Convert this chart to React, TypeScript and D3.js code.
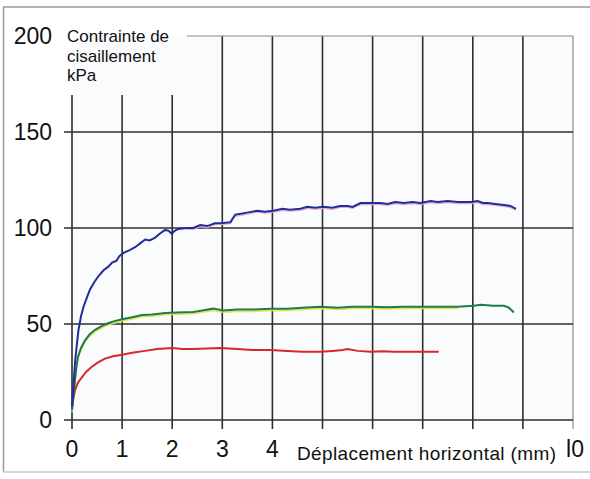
import React from 'react'
import * as d3 from 'd3'

// shear stress (kPa) vs horizontal displacement (mm)
const blueSeries: [number, number][] = [
  [0, 7], [0.03, 18], [0.06, 30], [0.1, 40], [0.13, 47], [0.18, 54], [0.23, 59], [0.3, 64],
  [0.36, 68], [0.45, 72], [0.53, 75], [0.63, 78], [0.73, 80], [0.8, 82], [0.89, 83], [0.95, 85.5],
  [1.03, 87], [1.15, 88.5], [1.26, 90], [1.36, 92], [1.46, 94], [1.55, 93.5], [1.66, 95], [1.75, 97],
  [1.86, 99], [1.93, 98.5], [1.99, 97], [2.05, 98.5], [2.12, 99.5], [2.3, 100], [2.42, 100],
  [2.56, 101.5], [2.7, 101], [2.85, 102.5], [3.02, 102.6], [3.16, 103], [3.22, 105.5], [3.26, 107],
  [3.4, 107.5], [3.49, 108], [3.7, 109], [3.85, 108.5], [4.02, 109], [4.2, 110], [4.35, 109.5],
  [4.56, 110], [4.7, 111], [4.85, 110.5], [5.02, 111], [5.2, 110.5], [5.35, 111.5], [5.5, 111.5],
  [5.6, 111], [5.76, 113], [5.96, 113], [6.16, 113], [6.3, 112.5], [6.45, 113.5], [6.62, 113],
  [6.8, 113.5], [6.95, 113], [7.16, 114], [7.3, 113.5], [7.5, 114], [7.7, 113.5], [7.96, 113.5],
  [8.1, 114], [8.2, 113], [8.3, 113], [8.45, 112.5], [8.62, 112], [8.75, 111.5], [8.86, 110],
]

const greenSeries: [number, number][] = [
  [0, 5], [0.03, 13], [0.06, 21], [0.09, 28], [0.12, 33], [0.18, 37.5], [0.26, 41.5], [0.35, 44.5],
  [0.46, 47], [0.6, 49], [0.73, 50.5], [0.85, 51.5], [1.0, 52.5], [1.2, 53.5], [1.4, 54.7], [1.6, 55],
  [1.86, 55.7], [2.1, 56], [2.42, 56.3], [2.6, 57], [2.82, 58], [3.02, 57], [3.3, 57.5], [3.6, 57.5],
  [3.96, 58], [4.3, 58], [4.6, 58.5], [4.96, 59], [5.3, 58.5], [5.6, 59], [5.96, 59], [6.3, 58.7],
  [6.6, 59], [6.96, 59], [7.3, 59], [7.7, 59], [8.02, 59.5], [8.16, 60], [8.4, 59.5], [8.62, 59.5],
  [8.72, 58.5], [8.78, 57], [8.82, 56],
]

const redSeries: [number, number][] = [
  [0, 7], [0.03, 11.5], [0.06, 15.6], [0.12, 19.5], [0.19, 22], [0.28, 25], [0.39, 27.6], [0.52, 30],
  [0.66, 32], [0.82, 33.2], [1.0, 34], [1.2, 35], [1.46, 36], [1.7, 37], [2.0, 37.5], [2.2, 37],
  [2.42, 37], [2.7, 37.3], [2.96, 37.5], [3.3, 37], [3.6, 36.5], [3.96, 36.5], [4.3, 36], [4.6, 35.5],
  [4.96, 35.5], [5.2, 36], [5.4, 36.5], [5.5, 37], [5.7, 36], [5.96, 35.5], [6.2, 35.8], [6.42, 35.5],
  [6.7, 35.5], [7.1, 35.5], [7.32, 35.5],
]

const xTicks = [0, 1, 2, 3, 4, 5, 6, 7, 8, 9, 10]
const xTickLabels = ['0', '1', '2', '3', '4', '', '', '', '', '', 'l0']
const yTicks = [0, 50, 100, 150, 200]
const yTitle = ['Contrainte de', 'cisaillement', 'kPa']
const xTitle = 'Déplacement horizontal (mm)'

export default function App() {
  const x = d3.scaleLinear().domain([0, 10]).range([72, 573])
  const y = d3.scaleLinear().domain([0, 200]).range([420, 36])

  const line = d3
    .line<[number, number]>()
    .x((d) => x(d[0]))
    .y((d) => y(d[1]))

  const font = 'Arial, "Liberation Sans", sans-serif'

  return (
    <svg
      width={590}
      height={479}
      style={{ position: 'absolute', left: 0, top: 0, background: '#fff' }}
      fontFamily={font}
    >
      {/* scanned page frame */}
      <line x1={3} x2={590} y1={7} y2={7} stroke="#9a9a9a" strokeWidth={1.5} />
      <line x1={3.5} x2={3.5} y1={7} y2={472} stroke="#9a9a9a" strokeWidth={1.5} />
      <line x1={3} x2={590} y1={472} y2={472} stroke="#c8c8c8" strokeWidth={1.5} />

      <rect x={x(0)} y={y(200)} width={x(10) - x(0)} height={y(0) - y(200)} fill="#fafbfc" />

      {/* vertical grid */}
      {xTicks.map((t) => (
        <line
          key={'vx' + t}
          x1={x(t)}
          x2={x(t)}
          y1={t < 3 ? 95 : y(200)}
          y2={y(0) + 9}
          stroke={t === 10 ? '#8a8a8a' : '#2e2e2e'}
          strokeWidth={t === 10 ? 1.2 : 1.6}
        />
      ))}
      {/* horizontal grid */}
      {yTicks.map((t) => (
        <line
          key={'hy' + t}
          x1={t === 200 ? 187 : x(0) - 8}
          x2={x(10)}
          y1={y(t)}
          y2={y(t)}
          stroke={t === 200 ? '#8a8a8a' : '#2e2e2e'}
          strokeWidth={t === 200 ? 1.2 : 1.6}
        />
      ))}

      {/* curves */}
      <path d={line(blueSeries.filter((d) => d[0] > 2.2)) ?? ''} transform="translate(0,1.5)" fill="none" stroke="#e7a7c8" strokeWidth={1.2} />
      <path d={line(greenSeries.filter((d) => d[0] < 8)) ?? ''} transform="translate(0,1.8)" fill="none" stroke="#e3e34a" strokeWidth={1.5} />
      <path d={line(redSeries) ?? ''} fill="none" stroke="#d9262b" strokeWidth={2} />
      <path d={line(greenSeries) ?? ''} fill="none" stroke="#1d7a4c" strokeWidth={2} />
      <path d={line(blueSeries) ?? ''} fill="none" stroke="#1f2e9c" strokeWidth={2} />

      {/* y tick labels */}
      {yTicks.map((t) => (
        <text key={'yl' + t} x={52} y={y(t) + 8} textAnchor="end" fontSize={23} fill="#111">
          {t}
        </text>
      ))}
      {/* x tick labels */}
      {xTicks.map((t, i) =>
        xTickLabels[i] ? (
          <text key={'xl' + t} x={x(t) + (t === 10 ? 2 : 0)} y={457} textAnchor="middle" fontSize={23} fill="#111">
            {xTickLabels[i]}
          </text>
        ) : null,
      )}

      {/* titles */}
      {yTitle.map((s, i) => (
        <text key={s} x={67} y={42 + i * 19.5} fontSize={17} fill="#111">
          {s}
        </text>
      ))}
      <text x={297} y={460} fontSize={19} fill="#111" textLength={259} lengthAdjust="spacing">
        {xTitle}
      </text>
    </svg>
  )
}
